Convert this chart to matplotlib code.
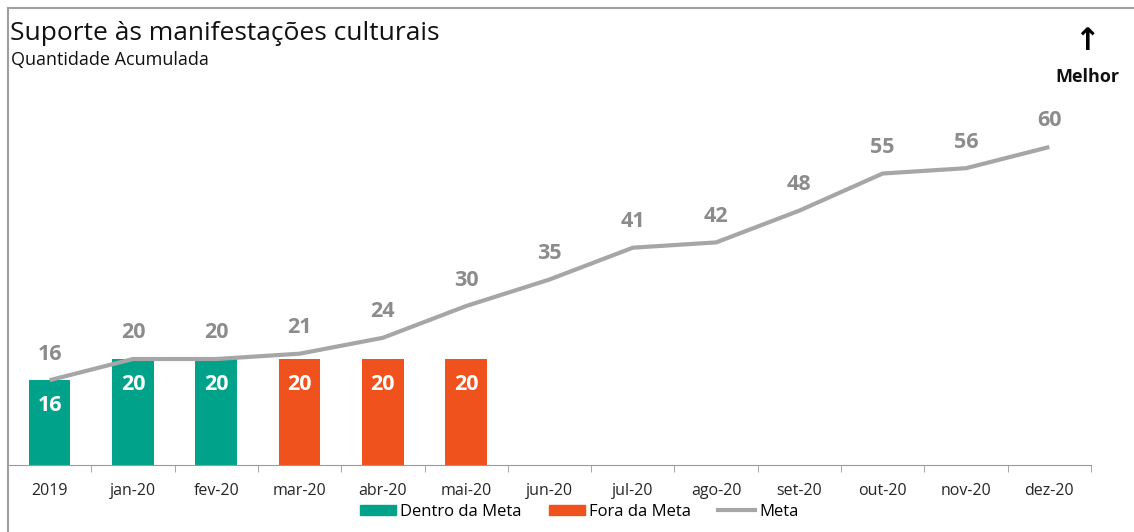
import matplotlib.pyplot as plt
from matplotlib.lines import Line2D
from matplotlib.patches import Patch
from numpy import arange

plt.rcParams['font.family'] = ['Open Sans', 'DejaVu Sans']

# dados
meses     = ['2019', 'jan-20', 'fev-20', 'mar-20', 'abr-20', 'mai-20', 'jun-20',
             'jul-20', 'ago-20', 'set-20', 'out-20', 'nov-20', 'dez-20']
meta      = [16, 20, 20, 21, 24, 30, 35, 41, 42, 48, 55, 56, 60]
realizado = [16, 20, 20, 20, 20, 20]
situacao  = ['dentro', 'dentro', 'dentro', 'fora', 'fora', 'fora']

VERDE   = '#00A389'
LARANJA = '#F0521E'
CINZA   = '#A6A6A6'
cores   = {'dentro': VERDE, 'fora': LARANJA}

W, H = 1134, 532
fig = plt.figure(figsize=(W / 100, H / 100), dpi=100)

# eixo: baseline em y=465 px, 5.3 px por unidade
y0, ytop = 465, 90
ax = fig.add_axes([8 / W, (H - y0) / H, (1091 - 8) / W, (y0 - ytop) / H])
ax.set_ylim(0, (y0 - ytop) / 5.3)
ax.set_xlim(-0.5, len(meses) - 0.5)

x = arange(len(meses))
xb = x[:len(realizado)]
ax.bar(xb, realizado, width=0.5, color=[cores[s] for s in situacao], zorder=2)
for xi, v in zip(xb, realizado):
    ax.annotate(f'{v}', (xi, v), xytext=(0, -25), textcoords='offset pixels',
                ha='center', va='center', color='white', fontsize=15.5,
                fontweight='bold', zorder=4)

ax.plot(x, meta, color=CINZA, lw=3, zorder=3, solid_capstyle='butt')
for xi, v in zip(x, meta):
    ax.annotate(f'{v}', (xi, v), xytext=(0, 26), textcoords='offset pixels',
                ha='center', va='center', color='#8C8C8C', fontsize=15.5,
                fontweight='bold')

for s in ['top', 'right', 'left']:
    ax.spines[s].set_visible(False)
ax.spines['bottom'].set_color('#9A9A9A')
ax.set_yticks([])
ax.set_xticks(x)
ax.set_xticklabels(meses, fontsize=11.5, color='#262626')
ax.tick_params(axis='x', which='major', length=0, pad=13)
ax.set_xticks(arange(-0.5, len(meses)), minor=True)
ax.tick_params(axis='x', which='minor', length=5, color='#9A9A9A')

# legenda
handles = [Patch(color=VERDE, label='Dentro da Meta'),
           Patch(color=LARANJA, label='Fora da Meta'),
           Line2D([], [], color=CINZA, lw=3, label='Meta')]
fig.legend(handles=handles, loc='center', bbox_to_anchor=(579 / W, (H - 512) / H),
           ncol=3, frameon=False, fontsize=12, handlelength=2.2, handleheight=0.6,
           columnspacing=1.6, handletextpad=0.25)

# titulos
fig.text(10 / W, (H - 33) / H, 'Suporte às manifestações culturais',
         fontsize=19, va='center', color='#111111')
fig.text(11 / W, (H - 60) / H, 'Quantidade Acumulada', fontsize=13,
         va='center', color='#111111')
fig.text(1087 / W, (H - 42) / H, '↑', fontsize=22, fontweight='bold',
         ha='center', va='center', family=['DejaVu Sans'])
fig.text(1087 / W, (H - 77) / H, 'Melhor', fontsize=13, fontweight='bold',
         ha='center', va='center', color='#111111')

# moldura
fig.add_artist(Line2D([8 / W, 8 / W], [0, (H - 8) / H], color='#A0A0A0', lw=1.5))
fig.add_artist(Line2D([8 / W, 1], [(H - 8) / H, (H - 8) / H], color='#A0A0A0', lw=1.5))

fig.savefig('out.png', dpi=100)
